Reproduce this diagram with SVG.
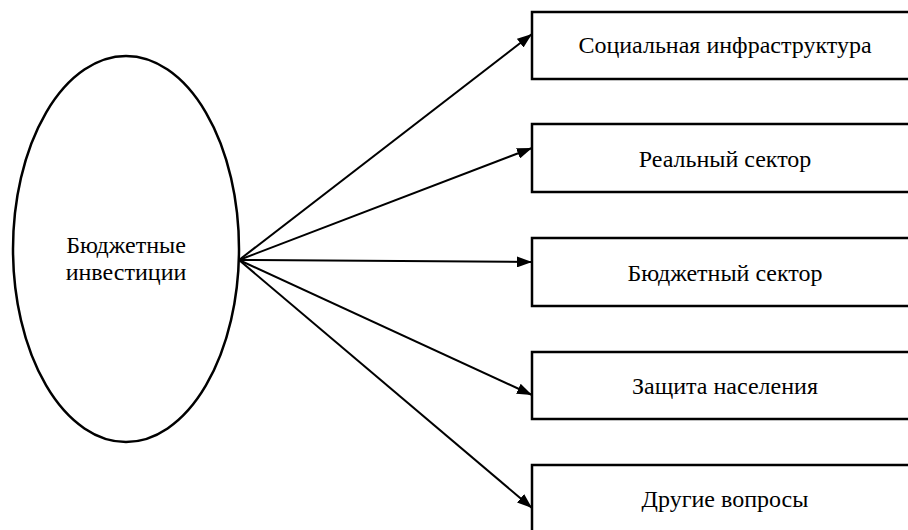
<svg xmlns="http://www.w3.org/2000/svg" width="908" height="530" viewBox="0 0 908 530">
<style>
.shape{fill:#fff;stroke:#000;stroke-width:2.5}
.lbl{font-family:"Liberation Serif","DejaVu Serif",serif;font-size:24px;fill:#000;text-anchor:middle}
.con{stroke:#000;stroke-width:2;fill:none;marker-end:url(#ah)}
</style>
<defs>
<marker id="ah" markerWidth="15" markerHeight="11" refX="15" refY="5.5" orient="auto" markerUnits="userSpaceOnUse">
<path d="M0,0 L15,5.5 L0,11 Z" fill="#000"/>
</marker>
</defs>
<rect width="908" height="530" fill="#fff"/>
<g id="src">
<ellipse class="shape" cx="126" cy="249" rx="113" ry="193"/>
<text class="lbl" x="126" y="253">Бюджетные</text>
<text class="lbl" x="126" y="280">инвестиции</text>
</g>
<g id="n1">
<rect class="shape" x="532" y="12" width="390" height="67"/>
<text class="lbl" x="725" y="53">Социальная инфраструктура</text>
</g>
<g id="n2">
<rect class="shape" x="532" y="124" width="390" height="68"/>
<text class="lbl" x="725" y="167">Реальный сектор</text>
</g>
<g id="n3">
<rect class="shape" x="532" y="238" width="390" height="68"/>
<text class="lbl" x="725" y="281">Бюджетный сектор</text>
</g>
<g id="n4">
<rect class="shape" x="532" y="352" width="390" height="67"/>
<text class="lbl" x="725" y="394">Защита населения</text>
</g>
<g id="n5">
<rect class="shape" x="532" y="465" width="390" height="80"/>
<text class="lbl" x="725" y="507">Другие вопросы</text>
</g>
<g id="connectors">
<line class="con" x1="239" y1="260" x2="532" y2="34"/>
<line class="con" x1="239" y1="260" x2="532" y2="148"/>
<line class="con" x1="239" y1="260" x2="532" y2="262"/>
<line class="con" x1="239" y1="260" x2="532" y2="395"/>
<line class="con" x1="239" y1="260" x2="532" y2="508"/>
</g>
</svg>
